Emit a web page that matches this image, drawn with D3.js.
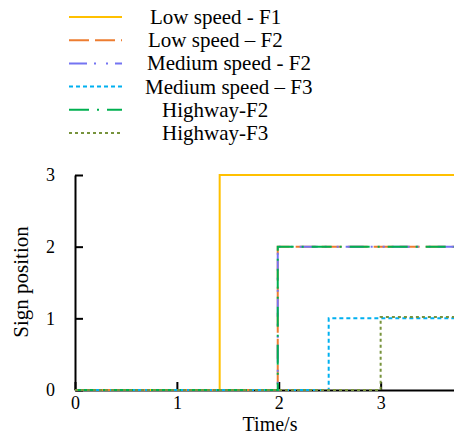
<!DOCTYPE html>
<html>
<head>
<meta charset="utf-8">
<style>
  body { margin: 0; background: #fff; font-family: "Liberation Serif", "Times New Roman", serif; }
  svg { display: block; }
</style>
</head>
<body>
<svg width="454" height="436"></svg>
<script src="https://cdnjs.cloudflare.com/ajax/libs/d3/7.8.5/d3.min.js"></script>
<script>
// step data: time (s) where the value changes, and the sign position
const seriesNames = ["Low speed - F1", "Low speed \u2013 F2", "Medium speed - F2",
                     "Medium speed \u2013 F3", "Highway-F2", "Highway-F3"];
const lowF1Time = [0, 1.42, 3.72];
const lowF1Pos  = [0, 3, 3];
const lowF2Time = [0, 1.99, 3.72];
const lowF2Pos  = [0, 2, 2];
const medF2Time = [0, 1.99, 3.72];
const medF2Pos  = [0, 2, 2];
const medF3Time = [0, 2.49, 3.72];
const medF3Pos  = [0, 1, 1];
const hwF2Time  = [0, 1.99, 3.72];
const hwF2Pos   = [0, 2, 2];
const hwF3Time  = [0, 3.0, 3.72];
const hwF3Pos   = [0, 1.02, 1.02];
const xTicks = [0, 1, 2, 3];
const yTicks = [0, 1, 2, 3];

const colors = ["#FFC000", "#ED7D31", "#7474F2", "#00B0F0", "#00B050", "#77933C"];
const dashes = ["none", "20,6", "18,7,2,10,2,7", "4,3", "20,8,2,8", "3,3"];
// legend label left edges (the labels are padded unevenly in the original)
const legendTextX = [150, 148, 147, 145, 162, 162];

const times = [lowF1Time, lowF2Time, medF2Time, medF3Time, hwF2Time, hwF3Time];
const positions = [lowF1Pos, lowF2Pos, medF2Pos, medF3Pos, hwF2Pos, hwF3Pos];
const series = seriesNames.map((name, i) => ({
  name: name,
  pts: times[i].map((t, j) => ({ t: t, v: positions[i][j] }))
}));

const svg = d3.select("svg");

const x = d3.scaleLinear().domain([0, 3.72]).range([75, 454]);
const y = d3.scaleLinear().domain([0, 3]).range([390, 175]);

// axes
const xAxis = svg.append("g")
  .attr("transform", "translate(0," + y(0) + ")")
  .call(d3.axisBottom(x).tickValues(xTicks).tickFormat(d3.format("d"))
    .tickSize(-8).tickSizeOuter(0).tickPadding(6));
const yAxis = svg.append("g")
  .attr("transform", "translate(" + x(0) + ",0)")
  .call(d3.axisLeft(y).tickValues(yTicks).tickFormat(d3.format("d"))
    .tickSize(-8).tickSizeOuter(0).tickPadding(20));

[xAxis, yAxis].forEach(function(a) {
  a.selectAll("path, line").attr("stroke", "#000").attr("stroke-width", 2);
  a.selectAll("text").attr("fill", "#000")
    .style("font-family", "'Liberation Serif', serif").style("font-size", "18px");
});

// lines
const line = d3.line()
  .x(d => x(d.t))
  .y(d => y(d.v))
  .curve(d3.curveStepAfter);

svg.append("g").selectAll("path")
  .data(series)
  .enter().append("path")
  .attr("d", d => line(d.pts))
  .attr("fill", "none")
  .attr("stroke", (d, i) => colors[i])
  .attr("stroke-width", 2)
  .attr("stroke-dasharray", (d, i) => dashes[i]);

// axis titles
svg.append("text")
  .attr("x", 270).attr("y", 431)
  .attr("text-anchor", "middle")
  .style("font-size", "20px")
  .text("Time/s");
svg.append("text")
  .attr("transform", "translate(28,282) rotate(-90)")
  .attr("text-anchor", "middle")
  .style("font-size", "21px")
  .text("Sign position");

// legend
const legendY = d3.scalePoint().domain(seriesNames).range([17, 133]);
const legend = svg.append("g").selectAll("g")
  .data(series)
  .enter().append("g");
legend.append("line")
  .attr("x1", 69).attr("x2", 122)
  .attr("y1", d => legendY(d.name)).attr("y2", d => legendY(d.name))
  .attr("stroke", (d, i) => colors[i])
  .attr("stroke-width", 2)
  .attr("stroke-dasharray", (d, i) => dashes[i]);
legend.append("text")
  .attr("x", (d, i) => legendTextX[i])
  .attr("y", d => legendY(d.name) + 7)
  .style("font-size", "21px")
  .text(d => d.name);
</script>
</body>
</html>
